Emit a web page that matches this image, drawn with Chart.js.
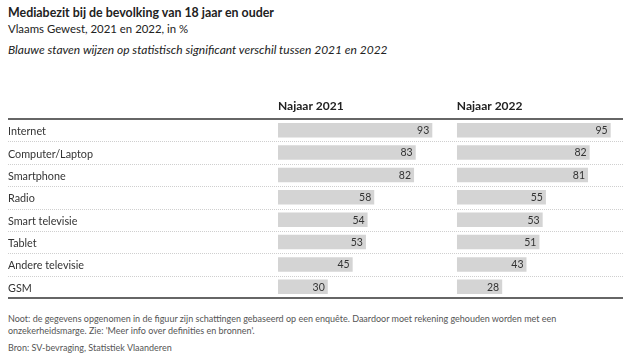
<!DOCTYPE html>
<html>
<head>
<meta charset="utf-8">
<script src="https://cdn.jsdelivr.net/npm/chart.js@4/dist/chart.umd.min.js"></script>
<style>
  html, body { margin:0; padding:0; background:#fff; }
  body { width:636px; height:358px; position:relative; overflow:hidden; font-family: Lato, "Noto Sans", sans-serif; color:#222; }
  .t { position:absolute; left:8px; white-space:nowrap; line-height:16px; }
  #title { top:5px; font-weight:bold; font-size:12.4px; color:#222; }
  #sub { top:21px; font-size:11.4px; color:#222; }
  #ital { top:42px; font-size:12px; font-style:italic; color:#222; }
  #note { top:313px; font-size:9px; line-height:12px; color:#555; }
  #bron { top:342px; font-size:9px; line-height:12px; color:#555; }
  #wrap { position:absolute; left:0; top:88px; width:636px; height:215px; }
</style>
</head>
<body>
<div class="t" id="title">Mediabezit bij de bevolking van 18 jaar en ouder</div>
<div class="t" id="sub">Vlaams Gewest, 2021 en 2022, in %</div>
<div class="t" id="ital">Blauwe staven wijzen op statistisch significant verschil tussen 2021 en 2022</div>
<div id="wrap"><canvas id="c"></canvas></div>
<div class="t" id="note">Noot: de gegevens opgenomen in de figuur zijn schattingen gebaseerd op een enquête. Daardoor moet rekening gehouden worden met een<br>onzekerheidsmarge. Zie: 'Meer info over definities en bronnen'.</div>
<div class="t" id="bron">Bron: SV-bevraging, Statistiek Vlaanderen</div>
<script>
const categories = ["Internet", "Computer/Laptop", "Smartphone", "Radio", "Smart televisie", "Tablet", "Andere televisie", "GSM"];
const periods = ["Najaar 2021", "Najaar 2022"];
const values2021 = [93, 83, 82, 58, 54, 53, 45, 30];
const values2022 = [95, 82, 81, 55, 53, 51, 43, 28];

const FONT = 'Lato, "Noto Sans", sans-serif';

const tablePlugin = {
  id: 'tableLines',
  beforeDatasetsDraw(chart) {
    const {ctx, chartArea, scales} = chart;
    const y = scales.y;
    const left = 8, right = chartArea.right;
    ctx.save();
    ctx.strokeStyle = '#cfcfcf';
    ctx.lineWidth = 1;
    ctx.setLineDash([1, 1]);
    for (let i = 0; i < categories.length - 1; i++) {
      const yy = Math.round((y.getPixelForValue(i) + y.getPixelForValue(i + 1)) / 2) + 0.5;
      ctx.beginPath();
      ctx.moveTo(left, yy);
      ctx.lineTo(right, yy);
      ctx.stroke();
    }
    ctx.setLineDash([]);
    ctx.strokeStyle = '#333';
    ctx.lineWidth = 1.5;
    [chartArea.top, chartArea.bottom].forEach(yy => {
      ctx.beginPath();
      ctx.moveTo(left, yy);
      ctx.lineTo(right, yy);
      ctx.stroke();
    });
    ctx.restore();
  },
  afterDatasetsDraw(chart) {
    const {ctx} = chart;
    ctx.save();
    ctx.font = '10.5px ' + FONT;
    ctx.fillStyle = '#333';
    ctx.textAlign = 'right';
    ctx.textBaseline = 'middle';
    chart.data.datasets.forEach((ds, di) => {
      const meta = chart.getDatasetMeta(di);
      meta.data.forEach((bar, i) => {
        ctx.fillText(String(ds.data[i]), bar.x - 3, bar.y + 0.5);
      });
    });
    ctx.restore();
  }
};

function xAxis(titleText, max, stackWeight, weight) {
  return {
    type: 'linear',
    position: 'top',
    stack: 'panels',
    stackWeight: stackWeight,
    weight: weight,
    min: 0,
    max: max,
    grid: { display: false, drawTicks: false },
    border: { display: false },
    ticks: { display: false },
    title: {
      display: true,
      text: titleText,
      align: 'start',
      color: '#222',
      font: { family: FONT, size: 12, weight: 'bold', lineHeight: 1.2 },
      padding: { top: 11, bottom: 0 }
    },
    afterFit(scale) { scale.height = 31; }
  };
}

new Chart(document.getElementById('c'), {
  type: 'bar',
  data: {
    labels: categories,
    datasets: [
      { label: periods[0], data: values2021, xAxisID: 'x1', yAxisID: 'y', backgroundColor: '#d4d4d4',
        grouped: false, barPercentage: 0.65, categoryPercentage: 1 },
      { label: periods[1], data: values2022, xAxisID: 'x2', yAxisID: 'y', backgroundColor: '#d4d4d4',
        grouped: false, barPercentage: 0.65, categoryPercentage: 1 }
    ]
  },
  options: {
    indexAxis: 'y',
    responsive: true,
    maintainAspectRatio: false,
    animation: false,
    layout: { padding: { left: 8, right: 13, top: 0, bottom: 5 } },
    plugins: { legend: { display: false }, tooltip: { enabled: false }, title: { display: false } },
    scales: {
      x1: xAxis(periods[0], 107.8, 178.7, 1),
      x2: xAxis(periods[1], 102.6, 166, 0),
      y: {
        type: 'category',
        position: 'left',
        offset: true,
        grid: { display: false, drawTicks: false },
        border: { display: false },
        ticks: {
          crossAlign: 'far',
          color: '#333',
          padding: 0,
          font: { family: FONT, size: 10.8, lineHeight: '3px' },
          callback(value, index) { return ['', categories[index]]; }
        },
        afterFit(scale) { scale.width = 270; }
      }
    }
  },
  plugins: [tablePlugin]
});
</script>
</body>
</html>
